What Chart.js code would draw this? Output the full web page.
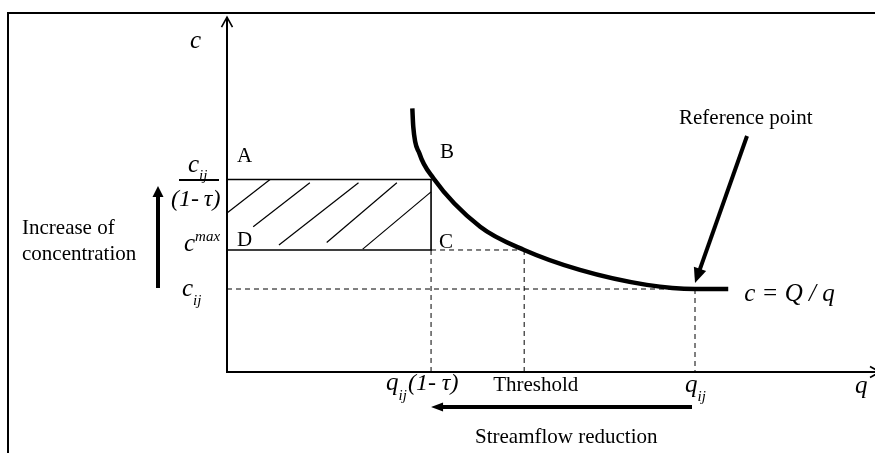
<!DOCTYPE html>
<html>
<head>
<meta charset="utf-8">
<script src="https://cdn.jsdelivr.net/npm/chart.js@4/dist/chart.umd.min.js"></script>
<style>
  html, body { margin: 0; padding: 0; background: #fff; }
  #wrap { width: 875px; height: 453px; }
</style>
</head>
<body>
<div id="wrap"><canvas id="c" width="875" height="453"></canvas></div>
<script>
// ---- data ----
const qMarks = [43.6, 63.5, 100];          // q_ij(1-τ), Threshold, q_ij
const cMarks = [20, 29.4, 46.4];           // c_ij, c^max, c_ij/(1-τ)
const curveQ = [39.6, 39.8, 41.1, 44.1, 54.1, 63.5, 75.4, 89.7, 100, 107.1];
const curveC = [63.5, 59.1, 52.7, 46.7, 35.0, 29.4, 24.6, 21.0, 20.0, 20.0];
const hatchQ0 = [0, 5.6, 11.1, 21.3, 29.0];
const hatchC0 = [38.3, 35.0, 30.6, 31.2, 29.6];
const hatchQ1 = [9.2, 17.7, 28.1, 36.3, 43.6];
const hatchC1 = [46.4, 45.6, 45.6, 45.6, 43.4];
const axisRange = [138.46, 89.64];         // q max, c max of the plotting frame
const axisTop = 85.5;                      // top of the c axis arrow

const SERIF = '"Liberation Serif", "Times New Roman", serif';

const curveData = curveQ.map((q, i) => ({x: q, y: curveC[i]}));
const rectData = [
  {x: 0, y: cMarks[2]}, {x: qMarks[0], y: cMarks[2]},
  {x: qMarks[0], y: cMarks[1]}, {x: 0, y: cMarks[1]}
];
const dashSegs = [
  [{x: 0, y: cMarks[0]}, {x: qMarks[2], y: cMarks[0]}],
  [{x: qMarks[2], y: cMarks[0]}, {x: qMarks[2], y: 0}],
  [{x: qMarks[0], y: cMarks[1]}, {x: qMarks[1], y: cMarks[1]}],
  [{x: qMarks[0], y: cMarks[1]}, {x: qMarks[0], y: 0}],
  [{x: qMarks[1], y: cMarks[1]}, {x: qMarks[1], y: 0}]
];

const datasets = [];
datasets.push({
  data: curveData, showLine: true, borderColor: '#000', borderWidth: 4.5,
  pointRadius: 0, cubicInterpolationMode: 'monotone', borderCapStyle: 'butt'
});
datasets.push({
  data: rectData, showLine: true, borderColor: '#000', borderWidth: 1.6,
  pointRadius: 0, tension: 0
});
dashSegs.forEach(s => datasets.push({
  data: s, showLine: true, borderColor: '#000', borderWidth: 1,
  borderDash: [5, 4], pointRadius: 0, tension: 0
}));
hatchQ0.forEach((q, i) => datasets.push({
  data: [{x: q, y: hatchC0[i]}, {x: hatchQ1[i], y: hatchC1[i]}],
  showLine: true, borderColor: '#000', borderWidth: 1.2, pointRadius: 0, tension: 0
}));

function arrowHead(ctx, x0, y0, x1, y1, len, half) {
  const a = Math.atan2(y1 - y0, x1 - x0);
  ctx.beginPath();
  ctx.moveTo(x1, y1);
  ctx.lineTo(x1 - len * Math.cos(a) + half * Math.sin(a), y1 - len * Math.sin(a) - half * Math.cos(a));
  ctx.lineTo(x1 - len * Math.cos(a) - half * Math.sin(a), y1 - len * Math.sin(a) + half * Math.cos(a));
  ctx.closePath();
  ctx.fill();
}
function arrow(ctx, x0, y0, x1, y1, w, len, half) {
  const a = Math.atan2(y1 - y0, x1 - x0);
  ctx.lineWidth = w;
  ctx.beginPath();
  ctx.moveTo(x0, y0);
  ctx.lineTo(x1 - (len - 1) * Math.cos(a), y1 - (len - 1) * Math.sin(a));
  ctx.stroke();
  arrowHead(ctx, x0, y0, x1, y1, len, half);
}
function t(ctx, s, x, y, size, italic) {
  ctx.font = (italic ? 'italic ' : '') + size + 'px ' + SERIF;
  ctx.fillText(s, x, y);
  return x + ctx.measureText(s).width;
}

const diagram = {
  id: 'diagram',
  beforeDraw(chart) {
    const ctx = chart.ctx;
    ctx.save();
    ctx.fillStyle = '#fff';
    ctx.fillRect(0, 0, chart.width, chart.height);
    ctx.strokeStyle = '#000';
    ctx.lineWidth = 2;
    ctx.beginPath();
    ctx.moveTo(8, chart.height + 5);
    ctx.lineTo(8, 13);
    ctx.lineTo(chart.width + 5, 13);
    ctx.stroke();
    ctx.restore();
  },
  afterDatasetsDraw(chart) {
    const ctx = chart.ctx;
    const xs = v => chart.scales.x.getPixelForValue(v);
    const ys = v => chart.scales.y.getPixelForValue(v);
    const x0 = xs(0), y0 = ys(0);
    ctx.save();
    ctx.strokeStyle = '#000';
    ctx.fillStyle = '#000';
    // axes
    ctx.lineWidth = 2;
    ctx.beginPath();
    ctx.moveTo(x0, y0);
    ctx.lineTo(x0, ys(axisTop));
    ctx.moveTo(x0 - 1, y0);
    ctx.lineTo(xs(axisRange[0]) + 5, y0);
    ctx.stroke();
    const yt = ys(axisTop);
    ctx.lineWidth = 1.6;
    ctx.beginPath();
    ctx.moveTo(x0 - 5.5, yt + 10);
    ctx.lineTo(x0, yt);
    ctx.lineTo(x0 + 5.5, yt + 10);
    ctx.stroke();
    const xe = xs(axisRange[0]) + 5;
    ctx.beginPath();
    ctx.moveTo(xe - 10, y0 - 5.5);
    ctx.lineTo(xe, y0);
    ctx.lineTo(xe - 10, y0 + 5.5);
    ctx.stroke();

    ctx.textBaseline = 'alphabetic';
    ctx.textAlign = 'left';
    // axis names
    t(ctx, 'c', x0 - 37, 48, 25, true);
    t(ctx, 'q', 855, y0 + 21, 25, true);
    // corner letters
    const yA = ys(cMarks[2]), yD = ys(cMarks[1]), xB = xs(qMarks[0]);
    t(ctx, 'A', x0 + 10, yA - 17, 21, false);
    t(ctx, 'B', xB + 9, yA - 21, 21, false);
    t(ctx, 'C', xB + 8, yD - 2, 21, false);
    t(ctx, 'D', x0 + 10, yD - 4, 21, false);
    // c_ij / (1-τ)
    let xx = t(ctx, 'c', x0 - 39, yA - 7, 25, true);
    t(ctx, 'ij', xx, yA + 1, 15, true);
    ctx.lineWidth = 2;
    ctx.beginPath();
    ctx.moveTo(x0 - 48, yA + 0.5);
    ctx.lineTo(x0 - 8, yA + 0.5);
    ctx.stroke();
    t(ctx, '(1-\u2009\u03C4)', x0 - 56, yA + 27, 24, true);
    // c^max
    xx = t(ctx, 'c', x0 - 43, yD + 1, 25, true);
    t(ctx, 'max', xx, yD - 9, 15, true);
    // c_ij
    const yC = ys(cMarks[0]);
    xx = t(ctx, 'c', x0 - 45, yC + 7, 25, true);
    t(ctx, 'ij', xx, yC + 16, 15, true);
    // increase of concentration
    t(ctx, 'Increase of', 22, 234, 21, false);
    t(ctx, 'concentration', 22, 260, 21, false);
    arrow(ctx, 158, yC - 1, 158, 186, 4, 11, 5.5);
    // q labels
    xx = t(ctx, 'q', xs(qMarks[0]) - 45, y0 + 18, 25, true);
    xx = t(ctx, 'ij', xx, y0 + 28, 15, true);
    t(ctx, '(1- \u03C4)', xx + 1, y0 + 18, 24, true);
    t(ctx, 'Threshold', xs(qMarks[1]) - 31, y0 + 19, 21, false);
    xx = t(ctx, 'q', xs(qMarks[2]) - 10, y0 + 20, 25, true);
    t(ctx, 'ij', xx, y0 + 29, 15, true);
    // streamflow reduction
    arrow(ctx, xs(qMarks[2]) - 3, y0 + 35, xs(qMarks[0]), y0 + 35, 4, 12, 4.5);
    t(ctx, 'Streamflow reduction', 475, y0 + 71, 21, false);
    // reference point
    t(ctx, 'Reference point', 679, 124, 21, false);
    arrow(ctx, 747, 136, xs(qMarks[2]), yC - 6, 4, 15, 6.5);
    // equation
    t(ctx, 'c = Q / q', xs(curveQ[curveQ.length - 1]) + 16, yC + 12, 25, true);
    ctx.restore();
  }
};

new Chart(document.getElementById('c'), {
  type: 'scatter',
  data: { datasets },
  options: {
    responsive: false,
    animation: false,
    devicePixelRatio: 1,
    layout: { padding: { left: 227, right: 0, top: 0, bottom: 81 } },
    plugins: { legend: { display: false }, tooltip: { enabled: false } },
    elements: { line: { fill: false } },
    datasets: { scatter: { clip: false } },
    scales: {
      x: { type: 'linear', display: false, min: 0, max: axisRange[0] },
      y: { type: 'linear', display: false, min: 0, max: axisRange[1] }
    }
  },
  plugins: [diagram]
});
</script>
</body>
</html>
